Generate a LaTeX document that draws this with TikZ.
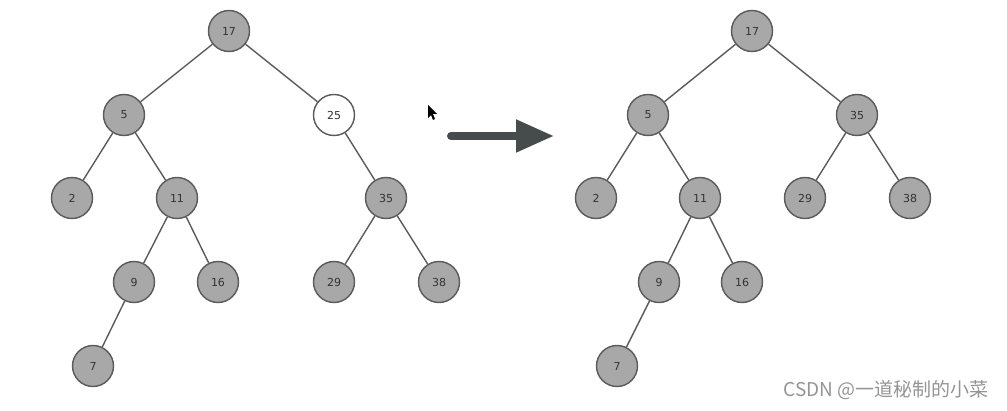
\documentclass[tikz,border=0pt]{standalone}
\usepackage{fontspec}
\setmainfont{DejaVu Sans}
\newfontfamily\cjkfont{Noto Sans CJK SC}
\usepackage{tikz}
\usetikzlibrary{arrows.meta}
\definecolor{vertgray}{HTML}{A8A8A8}
\definecolor{linegray}{HTML}{5A5A5A}
\definecolor{arrowgray}{HTML}{464B4B}
\tikzset{
  vert/.style={
    shape = circle,
    draw = linegray,
    line width = 1.4pt,
    fill = vertgray,
    minimum size = 41pt,
    inner sep = 0pt,
    font = \fontsize{11}{13}\selectfont,
    text = black!80
  },
  freshvert/.style={
    vert,
    fill = white
  },
  branch/.style={
    draw = linegray,
    line width = 1.4pt
  }
}

\begin{document}
\begin{tikzpicture}[x=1pt,y=-1pt]
  \useasboundingbox (0,0) rectangle (1007,411);
  % tree before
  \node[vert] (a17) at (229,31) {17};
  \node[vert] (a5) at (124,115) {5};
  \node[freshvert] (a25) at (334,115) {25};
  \node[vert] (a2) at (72,198) {2};
  \node[vert] (a11) at (177,198) {11};
  \node[vert] (a35) at (386,198) {35};
  \node[vert] (a9) at (134,282) {9};
  \node[vert] (a16) at (218,282) {16};
  \node[vert] (a29) at (334,282) {29};
  \node[vert] (a38) at (439,282) {38};
  \node[vert] (a7) at (93,366) {7};
  \draw[branch] (a17) -- (a5);
  \draw[branch] (a17) -- (a25);
  \draw[branch] (a5) -- (a2);
  \draw[branch] (a5) -- (a11);
  \draw[branch] (a25) -- (a35);
  \draw[branch] (a11) -- (a9);
  \draw[branch] (a11) -- (a16);
  \draw[branch] (a35) -- (a29);
  \draw[branch] (a35) -- (a38);
  \draw[branch] (a9) -- (a7);
  % tree after
  \node[vert] (b17) at (752,31) {17};
  \node[vert] (b5) at (648,115) {5};
  \node[vert] (b35) at (857,115) {35};
  \node[vert] (b2) at (596,198) {2};
  \node[vert] (b11) at (700,198) {11};
  \node[vert] (b29) at (805,198) {29};
  \node[vert] (b38) at (910,198) {38};
  \node[vert] (b9) at (659,282) {9};
  \node[vert] (b16) at (742,282) {16};
  \node[vert] (b7) at (617,366) {7};
  \draw[branch] (b17) -- (b5);
  \draw[branch] (b17) -- (b35);
  \draw[branch] (b5) -- (b2);
  \draw[branch] (b5) -- (b11);
  \draw[branch] (b35) -- (b29);
  \draw[branch] (b35) -- (b38);
  \draw[branch] (b11) -- (b9);
  \draw[branch] (b11) -- (b16);
  \draw[branch] (b9) -- (b7);
  % arrow between the trees
  \coordinate (from) at (451,136);
  \coordinate (to) at (554,136);
  \draw[arrowgray, line width=8pt, line cap=round,
    -{Triangle[length=38pt,width=31pt]}] (from) -- (to);
  % cursor
  \fill[black] (428,105) -- (428,118) -- (431,115) -- (433,120) -- (435,119)
    -- (433,114) -- (437,114) -- cycle;
  % watermark
  \node[text=black!42, font=\cjkfont\fontsize{19}{21}\selectfont] (mark)
    at (886,390) {CSDN @一道秘制的小菜};
\end{tikzpicture}
\end{document}
